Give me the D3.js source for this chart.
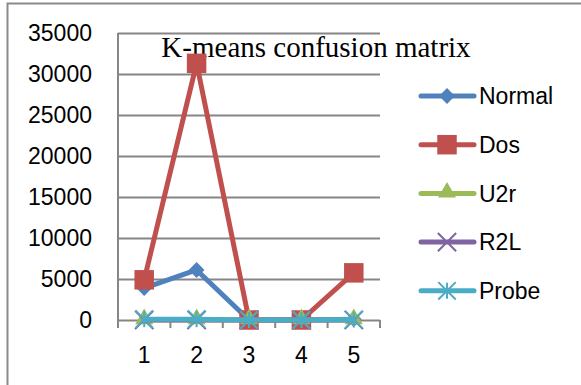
<!DOCTYPE html>
<html>
<head>
<meta charset="utf-8">
<script src="https://cdn.jsdelivr.net/npm/d3@7"></script>
<style>
  body { margin: 0; background: #fff; }
  .tick-label { font-family: "Liberation Sans", Arial, sans-serif; font-size: 23px; fill: #000; }
  .legend-text { font-family: "Liberation Sans", Arial, sans-serif; font-size: 23px; fill: #000; }
  .title { font-family: "Liberation Serif", "Times New Roman", serif; font-size: 29px; fill: #000; }
</style>
</head>
<body>
<svg id="chart"></svg>
<script>
const CATEGORIES = [1, 2, 3, 4, 5];
const Y_TICKS = [0, 5000, 10000, 15000, 20000, 25000, 30000, 35000];

const NORMAL = [3900, 6100, 0, 0, 100];
const DOS = [4900, 31300, 0, 0, 5750];
const U2R = [0, 0, 0, 0, 0];
const R2L = [0, 0, 0, 0, 0];
const PROBE = [100, 100, 0, 0, 50];

const SERIES_NAMES = ["Normal", "Dos", "U2r", "R2L", "Probe"];
const SERIES_VALUES = [NORMAL, DOS, U2R, R2L, PROBE];
const SERIES_COLORS = ["#4F81BD", "#C0504D", "#9BBB59", "#8064A2", "#4BACC6"];

const WIDTH = 581, HEIGHT = 385;
const PLOT = {left: 118, right: 380, top: 33, bottom: 320};

let svg = d3.select("#chart").attr("width", WIDTH).attr("height", HEIGHT);

let x = d3.scaleBand().domain(CATEGORIES).range([PLOT.left, PLOT.right]);
let y = d3.scaleLinear().domain([0, 35000]).range([PLOT.bottom, PLOT.top]);

// outer frame (runs off the right and bottom edge)
svg.append("rect")
   .attr("x", 7.5).attr("y", 3.5)
   .attr("width", WIDTH + 10).attr("height", HEIGHT + 10)
   .attr("fill", "none").attr("stroke", "#8a8a8a").attr("stroke-width", 2);

/*
  Marker for a series, drawn centred at 0,0.
*/
const addMarker = (g, i) => {
  const color = SERIES_COLORS[i];
  if (i === 0) {
    g.append("path").attr("d", d3.symbol(d3.symbolSquare, 125)())
     .attr("transform", "rotate(45)").attr("fill", color);
  } else if (i === 1) {
    g.append("path").attr("d", d3.symbol(d3.symbolSquare, 380)()).attr("fill", color);
  } else if (i === 2) {
    g.append("path").attr("d", d3.symbol(d3.symbolTriangle, 140)())
     .attr("transform", "translate(0,-1)").attr("fill", color);
  } else if (i === 3) {
    g.append("path").attr("d", d3.symbol(d3.symbolX, 220)())
     .attr("fill", "none").attr("stroke", color).attr("stroke-width", 2);
  } else {
    g.append("path").attr("d", d3.symbol(d3.symbolX, 200)())
     .attr("fill", "none").attr("stroke", color).attr("stroke-width", 2);
    g.append("path").attr("d", "M0,-8V8")
     .attr("stroke", color).attr("stroke-width", 2);
  }
};

// gridlines
svg.append("g")
   .attr("transform", `translate(${PLOT.left},0)`)
   .call(d3.axisLeft(y).tickValues(Y_TICKS).tickSize(-(PLOT.right - PLOT.left)).tickFormat(""))
   .call(g => g.select(".domain").remove())
   .call(g => g.selectAll("line").attr("stroke", "#868686").attr("stroke-width", 2));

// y axis line and labels
svg.append("line")
   .attr("x1", PLOT.left).attr("x2", PLOT.left)
   .attr("y1", y(35000)).attr("y2", PLOT.bottom + 8)
   .attr("stroke", "#868686").attr("stroke-width", 2);

svg.append("g").selectAll("text")
   .data(Y_TICKS).enter().append("text")
   .attr("class", "tick-label")
   .attr("x", 92)
   .attr("y", d => y(d))
   .attr("dy", "0.36em")
   .attr("text-anchor", "end")
   .text(d => d);

// x axis ticks between categories
let xAxis = svg.append("g")
   .attr("transform", `translate(0,${PLOT.bottom})`)
   .call(d3.axisBottom(x).tickSize(0).tickFormat(""));
xAxis.select(".domain").remove();
xAxis.selectAll(".tick").remove();

xAxis.selectAll(".cat-tick")
   .data(CATEGORIES.concat(["end"])).enter().append("line")
   .attr("x1", (d, i) => PLOT.left + i * x.bandwidth())
   .attr("x2", (d, i) => PLOT.left + i * x.bandwidth())
   .attr("y1", 0).attr("y2", 8)
   .attr("stroke", "#868686").attr("stroke-width", 2);

svg.append("g").selectAll("text")
   .data(CATEGORIES).enter().append("text")
   .attr("class", "tick-label")
   .attr("x", d => x(d) + x.bandwidth() / 2)
   .attr("y", 355)
   .attr("dy", "0.36em")
   .attr("text-anchor", "middle")
   .text(d => d);

// title
svg.append("text")
   .attr("class", "title")
   .attr("x", 316).attr("y", 57)
   .attr("text-anchor", "middle")
   .text("K-means confusion matrix");

// series
const line = d3.line()
   .x((d, i) => x(CATEGORIES[i]) + x.bandwidth() / 2)
   .y(d => y(d));

SERIES_VALUES.forEach((vals, i) => {
  let g = svg.append("g");
  g.append("path")
   .attr("d", line(vals))
   .attr("fill", "none")
   .attr("stroke", SERIES_COLORS[i])
   .attr("stroke-width", 5)
   .attr("stroke-linejoin", "round")
   .attr("stroke-linecap", "round");
  vals.forEach((v, j) => {
    let m = g.append("g")
             .attr("transform", `translate(${x(CATEGORIES[j]) + x.bandwidth() / 2},${y(v)})`);
    addMarker(m, i);
  });
});

// legend
const LEGEND_TOP = 96, LEGEND_STEP = 48.7;
SERIES_NAMES.forEach((name, i) => {
  let g = svg.append("g")
             .attr("transform", `translate(0,${LEGEND_TOP + i * LEGEND_STEP})`);
  g.append("line")
   .attr("x1", 421).attr("x2", 474)
   .attr("stroke", SERIES_COLORS[i]).attr("stroke-width", 5)
   .attr("stroke-linecap", "round");
  addMarker(g.append("g").attr("transform", "translate(447,0)"), i);
  g.append("text")
   .attr("class", "legend-text")
   .attr("x", 479).attr("dy", "0.36em")
   .text(name);
});
</script>
</body>
</html>
